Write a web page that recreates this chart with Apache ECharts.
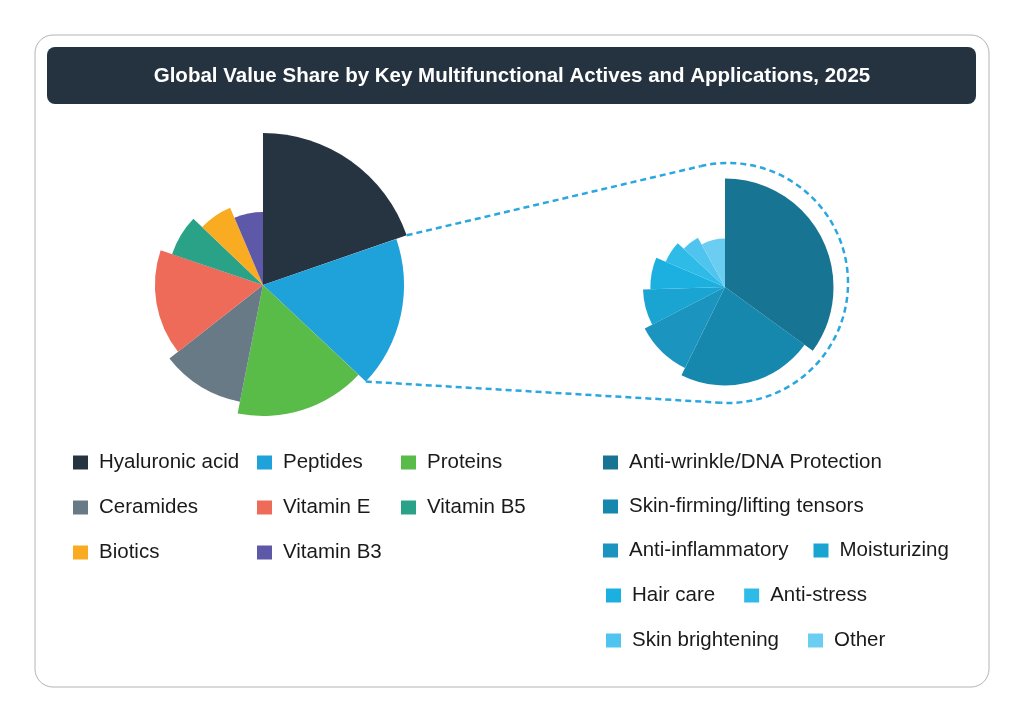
<!DOCTYPE html>
<html>
<head>
<meta charset="utf-8">
<title>Global Value Share by Key Multifunctional Actives and Applications, 2025</title>
<script src="https://cdn.jsdelivr.net/npm/echarts@6/dist/echarts.min.js"></script>
<style>
  html, body { margin: 0; padding: 0; background: #fff; }
  #main { width: 1024px; height: 722px; }
</style>
</head>
<body>
<div id="main"></div>
<script>
// actives (left pie): share = angle, size = relative radius
var activeNames = ['Hyaluronic acid', 'Peptides', 'Proteins', 'Ceramides', 'Vitamin E', 'Vitamin B5', 'Biotics', 'Vitamin B3'];
var activeShare = [19.7, 17.3, 16.1, 11.3, 15.8, 6.9, 6.5, 6.4];
var activeSize = [100, 92.8, 86.2, 78.3, 71.1, 63.2, 55.3, 48.0];
var activeColors = ['#263442', '#1fa1da', '#59bb48', '#687a85', '#ee6a59', '#2aa288', '#f9ac21', '#5d58a8'];

// applications of peptides (right pie)
var appNames = ['Anti-wrinkle/DNA Protection', 'Skin-firming/lifting tensors', 'Anti-inflammatory', 'Moisturizing', 'Hair care', 'Anti-stress', 'Skin brightening', 'Other'];
var appShare = [35.0, 22.3, 10.1, 7.1, 6.9, 5.5, 5.1, 8.0];
var appSize = [100, 90.7, 83.3, 75.6, 68.8, 59.4, 51.9, 44.6];
var appColors = ['#177493', '#1687ad', '#1b94c0', '#1aa4d2', '#1bb0e0', '#2fbbe8', '#4ec4ee', '#6bcdf2'];

var FONT = '"Liberation Sans", Arial, sans-serif';
var ARC_CENTER = [728, 283], ARC_R = 120;   // dashed outline round the right pie

var chart = echarts.init(document.getElementById('main'));

// one sector: angle from [start,end] on the angle axis, radius from size on the radius axis
function renderSlice(params, api) {
  var cs = params.coordSys;
  var size = api.value(2);
  var p0 = api.coord([size, api.value(0)]);
  var p1 = api.coord([size, api.value(1)]);
  var r = Math.sqrt(Math.pow(p0[0] - cs.cx, 2) + Math.pow(p0[1] - cs.cy, 2));
  var a0 = Math.atan2(p0[1] - cs.cy, p0[0] - cs.cx);
  var a1 = Math.atan2(p1[1] - cs.cy, p1[0] - cs.cx);
  if (a1 <= a0) a1 += Math.PI * 2;
  return {
    type: 'sector',
    shape: { cx: cs.cx, cy: cs.cy, r0: 0, r: r, startAngle: a0, endAngle: a1, clockwise: true },
    style: { fill: api.visual('color') }
  };
}

function buildSeries(names, share, size, colors, polarIndex) {
  var out = [];
  var acc = 0;
  for (var i = 0; i < names.length; i++) {
    out.push({
      type: 'custom',
      name: names[i],
      coordinateSystem: 'polar',
      polarIndex: polarIndex,
      renderItem: renderSlice,
      encode: { radius: 2, angle: [0, 1] },
      itemStyle: { color: colors[i] },
      data: [[acc, acc + share[i], size[i]]]
    });
    acc += share[i];
  }
  return out;
}

function hiddenAngle(idx) {
  return { polarIndex: idx, type: 'value', min: 0, max: 100, startAngle: 90, clockwise: true,
    axisLine: { show: false }, axisTick: { show: false }, axisLabel: { show: false }, splitLine: { show: false } };
}
function hiddenRadius(idx) {
  return { polarIndex: idx, type: 'value', min: 0, max: 100,
    axisLine: { show: false }, axisTick: { show: false }, axisLabel: { show: false }, splitLine: { show: false } };
}

function legendBlock(data, left, top, orient, gap) {
  return {
    data: data, left: left, top: top, orient: orient, itemGap: gap, padding: 0,
    icon: 'rect', itemWidth: 15, itemHeight: 14,
    textStyle: { fontSize: 20.5, color: '#1a1a1a', fontFamily: FONT, lineHeight: 20, padding: [0, 0, 0, 6] }
  };
}

var option = {
  backgroundColor: '#fff',
  title: {
    text: 'Global Value Share by Key Multifunctional Actives and Applications, 2025',
    left: 'center', top: 61,
    textStyle: { color: '#fff', fontSize: 20.5, fontWeight: 'bold', fontFamily: FONT }
  },
  graphic: [
    { id: 'frame', type: 'rect', z: -10, shape: { x: 35, y: 35, width: 954, height: 652, r: 18 },
      style: { fill: '#fff', stroke: '#b4b4b4', lineWidth: 1 } },
    { id: 'titlebox', type: 'rect', z: -5, shape: { x: 47, y: 47, width: 929, height: 57, r: 8 },
      style: { fill: '#253341' } }
  ],
  polar: [
    { center: [263, 285], radius: 152 },
    { center: [725, 287], radius: 108.5 }
  ],
  angleAxis: [hiddenAngle(0), hiddenAngle(1)],
  radiusAxis: [hiddenRadius(0), hiddenRadius(1)],
  legend: [
    legendBlock(['Hyaluronic acid', 'Ceramides', 'Biotics'], 73, 452, 'vertical', 24),
    legendBlock(['Peptides', 'Vitamin E', 'Vitamin B3'], 257, 452, 'vertical', 24),
    legendBlock(['Proteins', 'Vitamin B5'], 401, 452, 'vertical', 24),
    legendBlock(['Anti-wrinkle/DNA Protection'], 603, 452, 'horizontal', 30),
    legendBlock(['Skin-firming/lifting tensors'], 603, 496, 'horizontal', 30),
    legendBlock(['Anti-inflammatory', 'Moisturizing'], 603, 540, 'horizontal', 25),
    legendBlock(['Hair care', 'Anti-stress'], 606, 585, 'horizontal', 29),
    legendBlock(['Skin brightening', 'Other'], 606, 630, 'horizontal', 29)
  ],
  series: buildSeries(activeNames, activeShare, activeSize, activeColors, 0)
    .concat(buildSeries(appNames, appShare, appSize, appColors, 1))
};
chart.setOption(option);

// dashed connector from the Peptides slice to the breakdown pie
var pepStart = activeShare[0], pepEnd = activeShare[0] + activeShare[1];
var pA = chart.convertToPixel({ seriesIndex: 1 }, [activeSize[0], pepStart]);
var pB = chart.convertToPixel({ seriesIndex: 1 }, [activeSize[1], pepEnd]);

function tangent(p, c, R, side) {
  var dx = p[0] - c[0], dy = p[1] - c[1];
  var d = Math.sqrt(dx * dx + dy * dy);
  var t = Math.atan2(dy, dx) + side * Math.acos(R / d);
  return { x: c[0] + R * Math.cos(t), y: c[1] + R * Math.sin(t), t: t };
}
var tTop = tangent(pA, ARC_CENTER, ARC_R, 1);
var tBot = tangent(pB, ARC_CENTER, ARC_R, -1);
var endT = tBot.t;
while (endT <= tTop.t) endT += Math.PI * 2;

var dash = { stroke: '#2ba7df', lineWidth: 2.5, lineDash: [6, 4], fill: null };
chart.setOption({
  graphic: [
    { id: 'lnTop', type: 'line', shape: { x1: pA[0], y1: pA[1], x2: tTop.x, y2: tTop.y }, style: dash, z: 10 },
    { id: 'lnBot', type: 'line', shape: { x1: pB[0], y1: pB[1], x2: tBot.x, y2: tBot.y }, style: dash, z: 10 },
    { id: 'arc', type: 'arc', shape: { cx: ARC_CENTER[0], cy: ARC_CENTER[1], r: ARC_R, startAngle: tTop.t, endAngle: endT, clockwise: true }, style: dash, z: 10 }
  ]
});
</script>
</body>
</html>
